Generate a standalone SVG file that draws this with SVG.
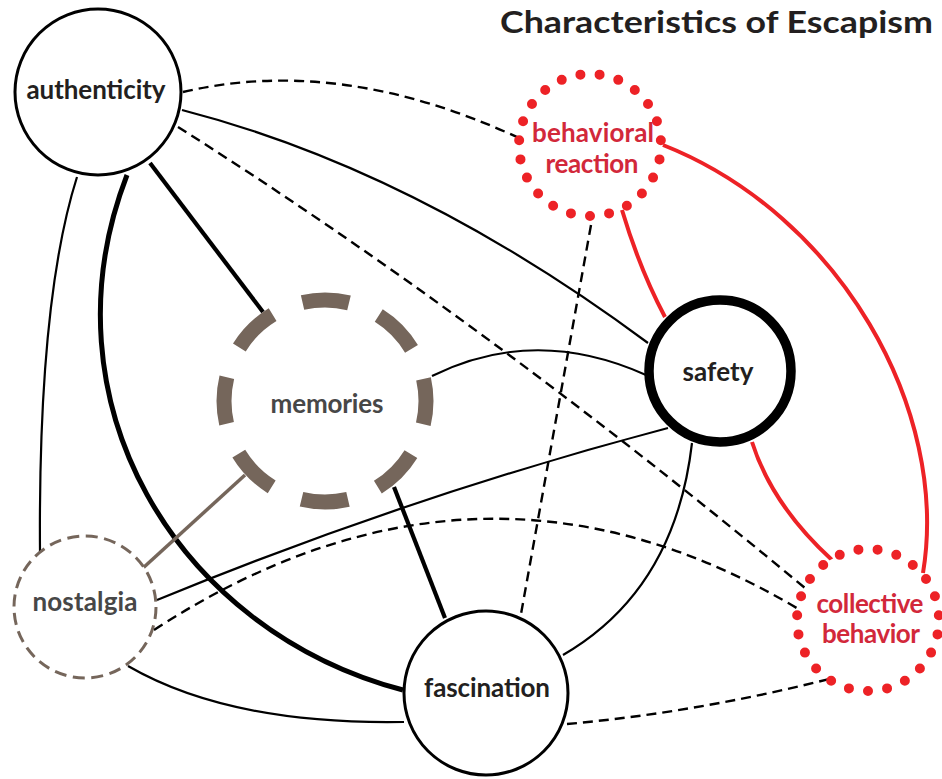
<svg xmlns="http://www.w3.org/2000/svg" width="942" height="779" viewBox="0 0 942 779">
  <style>
    .edge{fill:none;stroke:#000;stroke-width:2.2}
    .thick{stroke-width:4.2}
    .heavy{stroke-width:5}
    .dash{stroke-dasharray:10 6;stroke-width:2.4}
    .red{stroke:#ed2226;stroke-width:4}
    .brown{stroke:#75665b;stroke-width:3.5}
    .ring{fill:#fff;stroke:#000;stroke-width:3}
    .bold-ring{stroke-width:9.5}
    .dots{fill:#fff;stroke:#ed2226;stroke-width:10;stroke-linecap:round;stroke-dasharray:0 10}
    .lbl{font-family:Lato,"Open Sans","Liberation Sans",sans-serif;font-weight:700;font-size:26px;text-anchor:middle;fill:#231f20}
    .grey{fill:#474747}
    .rtxt{fill:#d2283a}
    .title{font-family:Lato,"Open Sans","Liberation Sans",sans-serif;font-weight:700;font-size:31px;text-anchor:end;fill:#231f20}
  </style>

  <text class="title" x="933" y="33" textLength="433" lengthAdjust="spacingAndGlyphs">Characteristics of Escapism</text>

  <g id="connectors">
    <!-- authenticity -->
    <path class="edge dash" d="M183,92 Q340,55 519,138"/>
    <path class="edge" d="M182,110 Q415,170 648,343"/>
    <path class="edge dash" d="M178,127 Q480,318 805,588"/>
    <path class="edge thick" d="M150,163 L263,312"/>
    <path class="edge heavy" d="M127,175 C40,400 175,630 403,690"/>
    <path class="edge" d="M77,177 Q38,300 40,552"/>
    <!-- behavioral reaction -->
    <path class="edge red" d="M622,210 Q640,270 665,317"/>
    <path class="edge red" d="M663,145 C840,215 950,410 923,573"/>
    <path class="edge dash" d="M591,225 L521,614"/>
    <!-- safety -->
    <path class="edge red" d="M752,442 Q772,505 832,560"/>
    <path class="edge" d="M432,376 Q535,325 646,375"/>
    <path class="edge" d="M157,600 Q410,496 668,428"/>
    <path class="edge" d="M692,443 Q675,590 563,655"/>
    <!-- nostalgia -->
    <path class="edge dash" d="M154,630 Q480,418 800,610"/>
    <path class="edge brown" d="M143,568 L245,475"/>
    <path class="edge" d="M128,666 Q230,725 404,722"/>
    <!-- memories / fascination -->
    <path class="edge thick" d="M394,487 L445,618"/>
    <path class="edge dash" d="M567,724 Q700,712 833,678"/>
  </g>

  <g id="authenticity">
    <circle class="ring" cx="98" cy="92" r="83"/>
    <text class="lbl" x="96" y="99" textLength="139">authenticity</text>
  </g>

  <g id="behavioral-reaction">
    <circle class="dots" cx="590" cy="145" r="71" pathLength="230" transform="rotate(90 590 145)"/>
    <text class="lbl rtxt" x="593" y="142" textLength="122">behavioral</text>
    <text class="lbl rtxt" x="592" y="173" textLength="93">reaction</text>
  </g>

  <g id="memories">
    <circle cx="325" cy="401" r="101" fill="#fff" stroke="#75665b" stroke-width="15" stroke-dasharray="47 32.33" stroke-dashoffset="23.5"/>
    <text class="lbl grey" x="327" y="413" textLength="113">memories</text>
  </g>

  <g id="safety">
    <circle class="ring bold-ring" cx="720" cy="371" r="71"/>
    <text class="lbl" x="718" y="381" textLength="71">safety</text>
  </g>

  <g id="nostalgia">
    <circle cx="85" cy="607" r="71" fill="#fff" stroke="#75665b" stroke-width="3" stroke-dasharray="12 6.6"/>
    <text class="lbl grey" x="85" y="611" textLength="105">nostalgia</text>
  </g>

  <g id="fascination">
    <circle class="ring" cx="486" cy="693" r="82"/>
    <text class="lbl" x="487" y="697" textLength="126">fascination</text>
  </g>

  <g id="collective-behavior">
    <circle class="dots" cx="868" cy="620" r="71" pathLength="230" transform="rotate(90 868 620)"/>
    <text class="lbl rtxt" x="870" y="613" textLength="107">collective</text>
    <text class="lbl rtxt" x="871" y="643" textLength="98">behavior</text>
  </g>
</svg>
